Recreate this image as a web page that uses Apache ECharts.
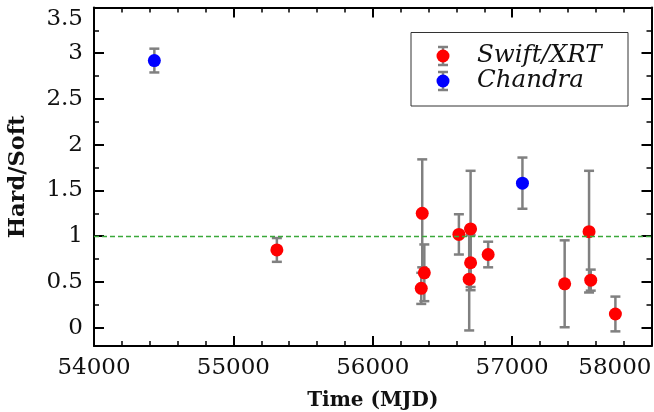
<!DOCTYPE html>
<html>
<head>
<meta charset="utf-8">
<script src="https://cdn.jsdelivr.net/npm/echarts@6/dist/echarts.min.js"></script>
<style>
  html, body { margin: 0; padding: 0; background: #fff; }
  #chart { width: 654px; height: 412px; }
</style>
</head>
<body>
<div id="chart"></div>
<script>
// Swift/XRT hardness ratios (MJD, value, symmetric 1-sigma error)
const swiftMjd = [55312, 56348, 56355, 56370, 56618, 56692, 56702, 56702, 56828, 57377, 57552, 57564, 57741];
const swiftRatio = [0.85, 0.43, 1.25, 0.60, 1.02, 0.53, 1.08, 0.71, 0.80, 0.48, 1.05, 0.52, 0.15];
const swiftErr = [0.13, 0.17, 0.59, 0.31, 0.22, 0.56, 0.635, 0.30, 0.14, 0.475, 0.665, 0.115, 0.19];

// Chandra hardness ratios
const chandraMjd = [54433, 57074];
const chandraRatio = [2.92, 1.58];
const chandraErr = [0.13, 0.28];

// Axis ticks
const yMajorTicks = [0, 0.5, 1, 1.5, 2, 2.5, 3, 3.5];
const yMinorTicks = [0.25, 0.75, 1.25, 1.75, 2.25, 2.75, 3.25];
const referenceLevel = 1;

const FONT = 'DejaVu Serif';

function points(xs, ys) { return xs.map((x, i) => [x, ys[i]]); }
function bars(xs, ys, es) { return xs.map((x, i) => [x, ys[i] - es[i], ys[i] + es[i]]); }

function renderErrorBar(params, api) {
  const x = api.value(0);
  const lo = api.coord([x, api.value(1)]);
  const hi = api.coord([x, api.value(2)]);
  const cap = 5;
  const style = { stroke: '#808080', lineWidth: 2.5 };
  return {
    type: 'group',
    children: [
      { type: 'line', shape: { x1: hi[0], y1: hi[1], x2: lo[0], y2: lo[1] }, style },
      { type: 'line', shape: { x1: hi[0] - cap, y1: hi[1], x2: hi[0] + cap, y2: hi[1] }, style },
      { type: 'line', shape: { x1: lo[0] - cap, y1: lo[1], x2: lo[0] + cap, y2: lo[1] }, style }
    ]
  };
}

const frameLine = { show: true, onZero: false, lineStyle: { color: '#000', width: 2 } };
const yRange = { type: 'value', min: -0.2, max: 3.5, splitLine: { show: false } };

function yAxisPair(position, withLabels) {
  return [
    Object.assign({}, yRange, {
      position,
      axisLine: frameLine,
      axisTick: { show: true, inside: true, length: 10, customValues: yMajorTicks, lineStyle: { color: '#000', width: 2 } },
      axisLabel: withLabels ? {
        show: true, customValues: yMajorTicks, margin: 11,
        fontFamily: FONT, fontSize: 23, color: '#111',
        verticalAlignMaxLabel: 'top'
      } : { show: false },
      name: withLabels ? 'Hard/Soft' : '',
      nameLocation: 'middle',
      nameGap: 64,
      nameTextStyle: { fontFamily: FONT, fontSize: 22.5, fontWeight: 'bold', color: '#111' }
    }),
    Object.assign({}, yRange, {
      position,
      axisLine: { show: false },
      axisTick: { show: true, inside: true, length: 5, customValues: yMinorTicks, lineStyle: { color: '#000', width: 1.5 } },
      axisLabel: { show: false }
    })
  ];
}

function xAxisDef(position, withLabels) {
  return {
    type: 'value', position,
    min: 54000, max: 58000, interval: 1000,
    axisLine: frameLine,
    axisTick: { show: true, inside: true, length: 10, lineStyle: { color: '#000', width: 2 } },
    minorTick: { show: true, splitNumber: 5, length: 5, lineStyle: { color: '#000', width: 1.5 } },
    splitLine: { show: false },
    minorSplitLine: { show: false },
    axisLabel: withLabels ? {
      show: true, margin: 11, fontFamily: FONT, fontSize: 23, color: '#111',
      alignMaxLabel: 'right',
      formatter: v => String(v)
    } : { show: false },
    name: withLabels ? 'Time (MJD)' : '',
    nameLocation: 'middle',
    nameGap: 45,
    nameTextStyle: { fontFamily: FONT, fontSize: 20, fontWeight: 'bold', color: '#111' }
  };
}

// Legend box with error-bar markers
const lx = 443, ly1 = 56, ly2 = 81;
function legendMarker(cy, color) {
  const s = { stroke: '#808080', lineWidth: 2.5 };
  return [
    { type: 'line', shape: { x1: lx, y1: cy - 9, x2: lx, y2: cy + 9 }, style: s },
    { type: 'line', shape: { x1: lx - 5, y1: cy - 9, x2: lx + 5, y2: cy - 9 }, style: s },
    { type: 'line', shape: { x1: lx - 5, y1: cy + 9, x2: lx + 5, y2: cy + 9 }, style: s },
    { type: 'circle', shape: { cx: lx, cy, r: 6.5 }, style: { fill: color } }
  ];
}

const chart = echarts.init(document.getElementById('chart'), null, { renderer: 'canvas' });
chart.setOption({
  animation: false,
  backgroundColor: '#fff',
  grid: { left: 94, right: 2.5, top: 7.5, bottom: 66, containLabel: false, outerBoundsMode: 'none' },
  xAxis: [xAxisDef('bottom', true), xAxisDef('top', false)],
  yAxis: yAxisPair('left', true).concat(yAxisPair('right', false)),
  series: [
    {
      // dashed reference level at Hard/Soft = 1
      type: 'line', name: 'reference', data: [], z: 1, silent: true,
      markLine: {
        silent: true, symbol: 'none', label: { show: false },
        lineStyle: { color: '#3aa83a', type: [5, 3], width: 1.3, opacity: 1 },
        emphasis: { disabled: true },
        data: [{ yAxis: referenceLevel }]
      }
    },
    {
      type: 'custom', name: 'swiftErr', renderItem: renderErrorBar,
      data: bars(swiftMjd, swiftRatio, swiftErr), z: 2, silent: true
    },
    {
      type: 'custom', name: 'chandraErr', renderItem: renderErrorBar,
      data: bars(chandraMjd, chandraRatio, chandraErr), z: 2, silent: true
    },
    {
      type: 'scatter', name: 'Swift/XRT', data: points(swiftMjd, swiftRatio),
      symbol: 'circle', symbolSize: 13, itemStyle: { color: '#ff0000', opacity: 1 }, z: 4
    },
    {
      type: 'scatter', name: 'Chandra', data: points(chandraMjd, chandraRatio),
      symbol: 'circle', symbolSize: 13, itemStyle: { color: '#0000ff', opacity: 1 }, z: 4
    }
  ],
  graphic: [
    {
      type: 'group', z: 100,
      children: [
        { type: 'rect', shape: { x: 411, y: 32.5, width: 217, height: 73.5 }, style: { fill: '#fff', stroke: '#333', lineWidth: 1 } }
      ].concat(legendMarker(ly1, '#ff0000'), legendMarker(ly2, '#0000ff'), [
        { type: 'text', x: 477, y: ly1, style: { text: 'Swift/XRT', fontFamily: FONT, fontStyle: 'italic', fontSize: 24.5, fill: '#111', verticalAlign: 'middle' } },
        { type: 'text', x: 477, y: ly2, style: { text: 'Chandra', fontFamily: FONT, fontStyle: 'italic', fontSize: 24.5, fill: '#111', verticalAlign: 'middle' } }
      ])
    }
  ]
});
</script>
</body>
</html>
